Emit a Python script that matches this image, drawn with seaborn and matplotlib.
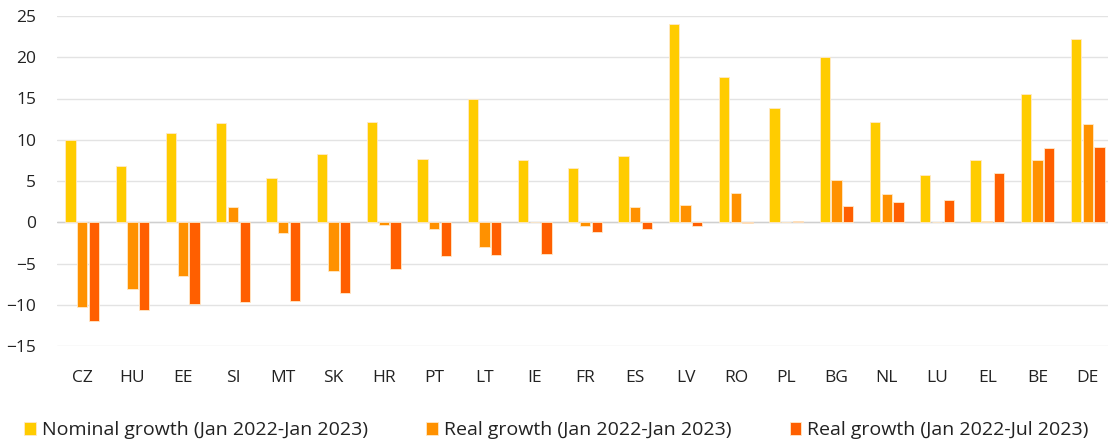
import pandas as pd
import matplotlib
matplotlib.use("Agg")
import matplotlib.pyplot as plt
import seaborn as sns

countries = ["CZ", "HU", "EE", "SI", "MT", "SK", "HR", "PT", "LT", "IE", "FR",
             "ES", "LV", "RO", "PL", "BG", "NL", "LU", "EL", "BE", "DE"]
nominal_jan23 = [10.0, 6.8, 10.8, 12.0, 5.4, 8.3, 12.2, 7.7, 15.0, 7.5, 6.6,
                 8.0, 24.0, 17.6, 13.8, 20.0, 12.1, 5.7, 7.5, 15.5, 22.2]
real_jan23 = [-10.3, -8.1, -6.5, 1.8, -1.3, -5.9, -0.3, -0.8, -3.0, 0.0, -0.4,
              1.9, 2.1, 3.6, 0.05, 5.1, 3.4, 0.0, 0.2, 7.5, 11.9]
real_jul23 = [-12.0, -10.6, -9.9, -9.7, -9.6, -8.6, -5.7, -4.1, -4.0, -3.8, -1.2,
              -0.8, -0.45, -0.15, 0.1, 2.0, 2.5, 2.7, 6.0, 9.0, 9.1]
series_names = ["Nominal growth (Jan 2022-Jan 2023)",
                "Real growth (Jan 2022-Jan 2023)",
                "Real growth (Jan 2022-Jul 2023)"]
series_colors = ["#FFCC00", "#FF9100", "#FF5F00"]

df = pd.concat([
    pd.DataFrame({"country": countries, "value": vals, "series": name})
    for name, vals in zip(series_names, [nominal_jan23, real_jan23, real_jul23])
])

sns.set_style("white")
plt.rcParams["font.family"] = ["Open Sans", "DejaVu Sans"]

fig = plt.figure(figsize=(11.08, 4.43), dpi=100)
ax = fig.add_axes([57 / 1108, 97 / 443, 1056 / 1108, 330 / 443])

sns.barplot(data=df, x="country", y="value", hue="series", order=countries,
            hue_order=series_names, palette=series_colors, saturation=1,
            width=0.7, gap=0.12, edgecolor="#FFE9C8", linewidth=0.6,
            ax=ax, zorder=3)

ax.set_ylim(-15, 25)
ax.set_xlim(-0.5, len(countries) - 0.5)
ax.set_yticks(range(-15, 26, 5))
ax.grid(axis="y", color="#E3E3E3", linewidth=1.0, zorder=0)
ax.axhline(0, color="#CFCFCF", linewidth=1.0, zorder=2)
for s in ax.spines.values():
    s.set_visible(False)
ax.set_xlabel("")
ax.set_ylabel("")
ax.tick_params(axis="x", length=0, pad=17, labelsize=12.5, labelcolor="#222222")
ax.tick_params(axis="y", length=0, pad=15, labelsize=12.5, labelcolor="#222222")

ax.legend(loc="upper center", bbox_to_anchor=(0.473, -0.175), ncol=3,
          frameon=False, fontsize=14, handlelength=0.6, handleheight=0.6,
          handletextpad=0.3, columnspacing=3.0, labelcolor="#222222")

fig.savefig("out.png", dpi=100)
